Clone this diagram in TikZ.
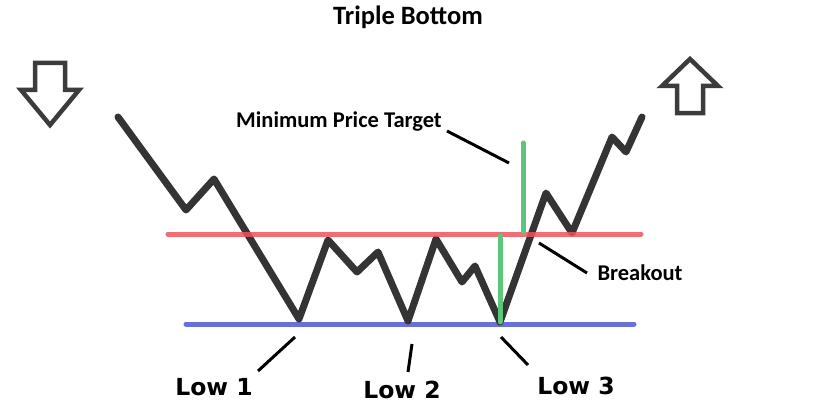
\documentclass[tikz,border=0pt]{standalone}
\usepackage{fontspec}
\setmainfont{Carlito}
\newfontfamily\lowfont{DejaVu Sans}
\usepackage{xcolor}
\definecolor{pricegray}{RGB}{52,52,52}
\definecolor{resred}{RGB}{240,82,92}
\definecolor{supblue}{RGB}{104,112,218}
\definecolor{targetgreen}{RGB}{92,198,122}
\definecolor{arrowgray}{RGB}{60,60,60}

\begin{document}
\begin{tikzpicture}[
  x=1pt, y=-1pt,
  price/.style={draw=pricegray,line width=7pt,line join=round,line cap=round},
  level/.style={line width=5pt,line cap=round},
  target/.style={draw=targetgreen,line width=5pt,line cap=round},
  leader/.style={draw=black,line width=3pt},
  lbl/.style={font=\fontsize{22.5}{26}\selectfont\bfseries,inner sep=0pt},
  lowlbl/.style={font=\lowfont\fontsize{23.5}{28}\selectfont\bfseries,inner sep=0pt},
  trend/.style={draw=arrowgray,line width=4.5pt,line join=miter,fill=white}
]
  \useasboundingbox (0,0) rectangle (817,404);
  % price path
  \coordinate (p0) at (118,117);
  \coordinate (p1) at (186,210);
  \coordinate (p2) at (214,179);
  \coordinate (low1) at (299,319);
  \coordinate (p4) at (328,240);
  \coordinate (p5) at (357,272);
  \coordinate (p6) at (378,252);
  \coordinate (low2) at (408,321);
  \coordinate (p8) at (436,239);
  \coordinate (p9) at (462,282);
  \coordinate (p10) at (475,266);
  \coordinate (low3) at (500,322);
  \coordinate (p12) at (546,193);
  \coordinate (p13) at (572,233);
  \coordinate (p14) at (612,137);
  \coordinate (p15) at (626,152);
  \coordinate (p16) at (642,117);
  % levels
  \coordinate (sup0) at (186,324);
  \coordinate (sup1) at (634,324);
  \coordinate (res0) at (168,234);
  \coordinate (res1) at (641,234);
  \coordinate (tgt0) at (500,236);
  \coordinate (tgt1) at (523,143);
  \coordinate (tgt2) at (523,232);
  \draw[level,supblue] (sup0) -- (sup1);
  \draw[price] (p0) -- (p1) -- (p2) -- (low1) -- (p4) -- (p5) -- (p6) -- (low2)
    -- (p8) -- (p9) -- (p10) -- (low3) -- (p12) -- (p13) -- (p14) -- (p15) -- (p16);
  \draw[level,resred,opacity=0.85] (res0) -- (res1);
  \draw[target] (tgt0) -- (low3);
  \draw[target] (tgt1) -- (tgt2);
  % trend arrows
  \draw[trend] (35,63) -- (65,63) -- (65,90) -- (79,90) -- (50,125) -- (21,90) -- (35,90) -- cycle;
  \draw[trend] (690,59) -- (718,86) -- (703,86) -- (703,113) -- (677,113) -- (677,86) -- (662,86) -- cycle;
  % labels
  \node[lbl,font=\fontsize{26.5}{30}\selectfont\bfseries] (title) at (408,17) {Triple Bottom};
  \node[lbl] (mpt) at (339,122) {Minimum Price Target};
  \node[lbl] (brk) at (640,273) {Breakout};
  \node[lowlbl] (l1) at (214,387) {Low 1};
  \node[lowlbl] (l2) at (402,390) {Low 2};
  \node[lowlbl] (l3) at (576,386) {Low 3};
  \coordinate (mpt0) at (447,131);
  \coordinate (mpt1) at (509,163);
  \coordinate (brk0) at (539,243);
  \coordinate (brk1) at (587,273);
  \coordinate (l1a) at (295,337);
  \coordinate (l1b) at (258,371);
  \coordinate (l2a) at (412,344);
  \coordinate (l2b) at (408,372);
  \coordinate (l3a) at (501,337);
  \coordinate (l3b) at (528,365);
  \draw[leader] (mpt0) -- (mpt1);
  \draw[leader] (brk0) -- (brk1);
  \draw[leader] (l1a) -- (l1b);
  \draw[leader] (l2a) -- (l2b);
  \draw[leader] (l3a) -- (l3b);
\end{tikzpicture}
\end{document}
